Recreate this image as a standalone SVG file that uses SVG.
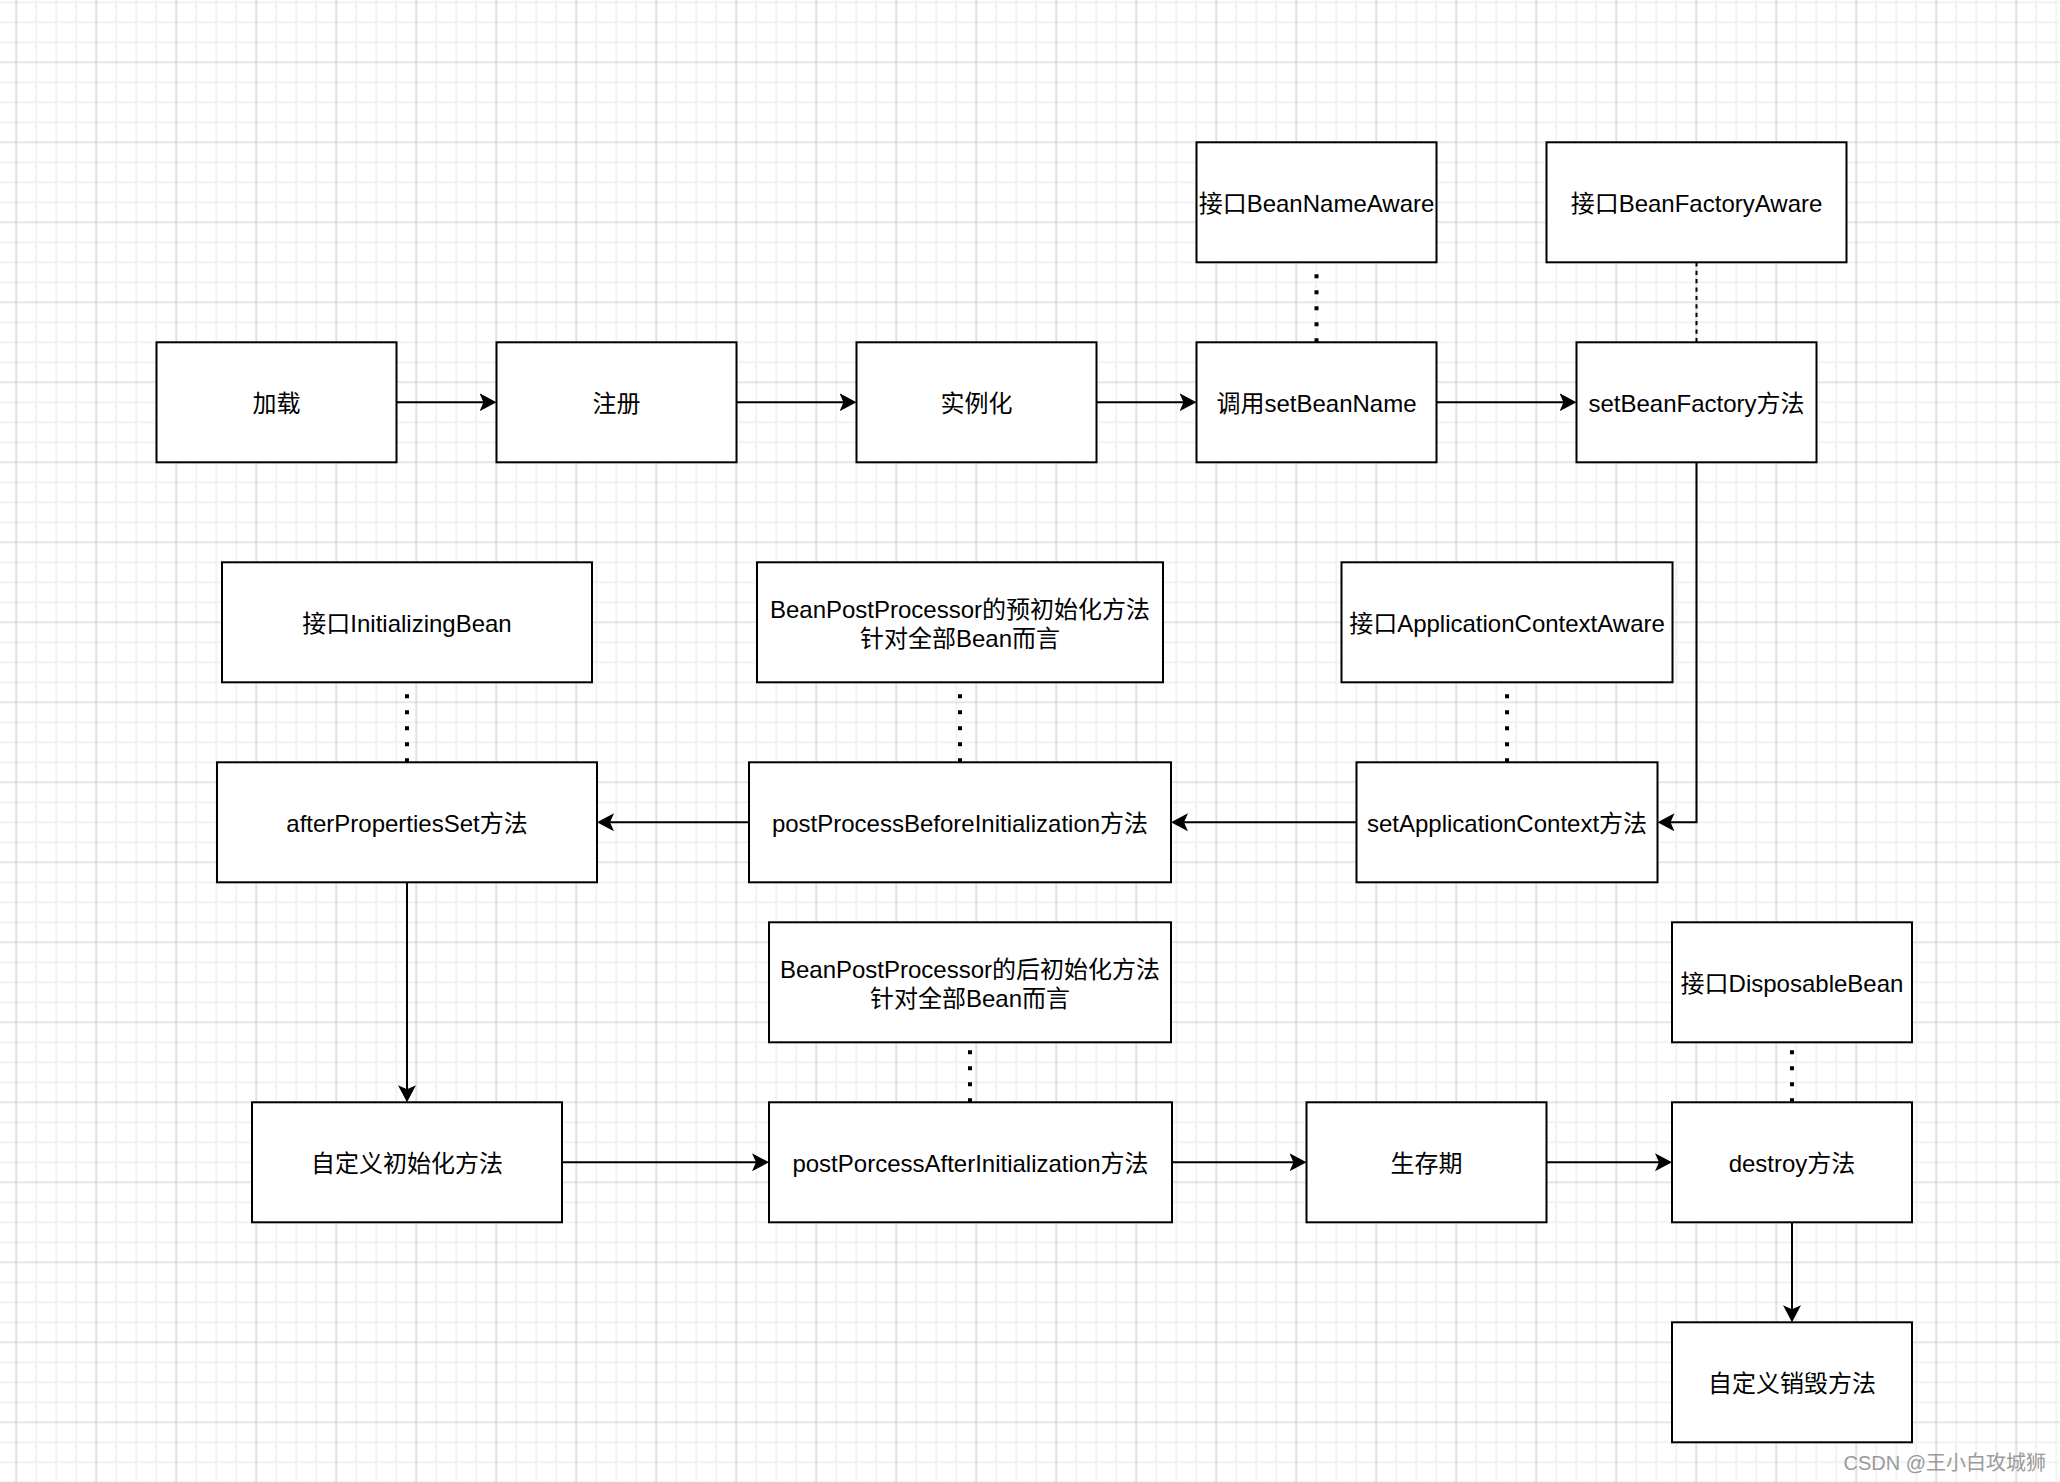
<svg xmlns="http://www.w3.org/2000/svg" width="2060" height="1482" viewBox="0 0 2060 1482">
  <defs>
    <pattern id="grid" patternUnits="userSpaceOnUse" x="6.3" y="52.3" width="80" height="80">
      <path d="M30,0 V80 M50,0 V80 M70,0 V80 M0,30 H80 M0,50 H80 M0,70 H80" stroke="#f2f2f2" stroke-width="2" fill="none"/>
      <path d="M10,0 V80 M0,10 H80" stroke="#cdcdcd" stroke-width="1.2" fill="none"/>
    </pattern>
    <marker id="arrow" markerUnits="userSpaceOnUse" markerWidth="20" markerHeight="20" refX="7" refY="9" orient="auto">
      <path d="M0,0 L17,9 L0,18 L4,9 Z" fill="#000"/>
    </marker>
  </defs>
  <style>
    .box { fill: #ffffff; stroke: #000000; stroke-width: 2; }
    .lbl { font-family: "Liberation Sans", "Noto Sans CJK SC", sans-serif; font-size: 24px; fill: #000000; text-anchor: middle; }
    .edge { fill: none; stroke: #000000; stroke-width: 2; }
    .dot { fill: none; stroke: #000000; stroke-width: 4; stroke-dasharray: 4 12; }
    .dash { fill: none; stroke: #000000; stroke-width: 2; stroke-dasharray: 4.2 4.2; }
    .wm { font-family: "Liberation Sans", "Noto Sans CJK SC", sans-serif; font-size: 20px; fill: #9a9a9a; text-anchor: end; }
  </style>
  <rect x="0" y="0" width="2060" height="1482" fill="#ffffff"/>
  <rect x="0" y="0" width="2060" height="1482" fill="url(#grid)"/>

  <g id="connectors">
    <path class="edge" d="M396.5,402.3 H486.5" marker-end="url(#arrow)"/>
    <path class="edge" d="M736.5,402.3 H846.5" marker-end="url(#arrow)"/>
    <path class="edge" d="M1096.5,402.3 H1186.5" marker-end="url(#arrow)"/>
    <path class="edge" d="M1436.5,402.3 H1566.5" marker-end="url(#arrow)"/>
    <path class="edge" d="M1696.5,462.3 V822.3 H1667.5" marker-end="url(#arrow)"/>
    <path class="edge" d="M1356.5,822.3 H1181" marker-end="url(#arrow)"/>
    <path class="edge" d="M749,822.3 H607" marker-end="url(#arrow)"/>
    <path class="edge" d="M407,882.3 V1092.3" marker-end="url(#arrow)"/>
    <path class="edge" d="M562,1162.3 H759" marker-end="url(#arrow)"/>
    <path class="edge" d="M1172,1162.3 H1296.5" marker-end="url(#arrow)"/>
    <path class="edge" d="M1546.5,1162.3 H1662" marker-end="url(#arrow)"/>
    <path class="edge" d="M1792,1222.3 V1312.3" marker-end="url(#arrow)"/>
    <path class="dot" d="M1316.5,342.3 V262.3"/>
    <path class="dash" d="M1696.5,262.3 V342.3"/>
    <path class="dot" d="M407,762.3 V682.3"/>
    <path class="dot" d="M960,762.3 V682.3"/>
    <path class="dot" d="M1507,762.3 V682.3"/>
    <path class="dot" d="M970,1102.3 V1042.3"/>
    <path class="dot" d="M1792,1102.3 V1042.3"/>
  </g>

  <g id="n1"><rect class="box" x="156.5" y="342.3" width="240" height="120"/><text class="lbl" x="276.5" y="412.3">加载</text></g>
  <g id="n2"><rect class="box" x="496.5" y="342.3" width="240" height="120"/><text class="lbl" x="616.5" y="412.3">注册</text></g>
  <g id="n3"><rect class="box" x="856.5" y="342.3" width="240" height="120"/><text class="lbl" x="976.5" y="412.3">实例化</text></g>
  <g id="n4"><rect class="box" x="1196.5" y="342.3" width="240" height="120"/><text class="lbl" x="1316.5" y="412.3">调用setBeanName</text></g>
  <g id="n5"><rect class="box" x="1576.5" y="342.3" width="240" height="120"/><text class="lbl" x="1696.5" y="412.3">setBeanFactory方法</text></g>
  <g id="n6"><rect class="box" x="1196.5" y="142.3" width="240" height="120"/><text class="lbl" x="1316.5" y="212.3">接口BeanNameAware</text></g>
  <g id="n7"><rect class="box" x="1546.5" y="142.3" width="300" height="120"/><text class="lbl" x="1696.5" y="212.3">接口BeanFactoryAware</text></g>

  <g id="n8"><rect class="box" x="222" y="562.3" width="370" height="120"/><text class="lbl" x="407" y="632.3">接口InitializingBean</text></g>
  <g id="n9"><rect class="box" x="757" y="562.3" width="406" height="120"/><text class="lbl" x="960" y="617.7">BeanPostProcessor的预初始化方法</text><text class="lbl" x="960" y="646.7">针对全部Bean而言</text></g>
  <g id="n10"><rect class="box" x="1341.5" y="562.3" width="331" height="120"/><text class="lbl" x="1507" y="632.3">接口ApplicationContextAware</text></g>
  <g id="n11"><rect class="box" x="217" y="762.3" width="380" height="120"/><text class="lbl" x="407" y="832.3">afterPropertiesSet方法</text></g>
  <g id="n12"><rect class="box" x="749" y="762.3" width="422" height="120"/><text class="lbl" x="960" y="832.3">postProcessBeforeInitialization方法</text></g>
  <g id="n13"><rect class="box" x="1356.5" y="762.3" width="301" height="120"/><text class="lbl" x="1507" y="832.3">setApplicationContext方法</text></g>

  <g id="n14"><rect class="box" x="769" y="922.3" width="402" height="120"/><text class="lbl" x="970" y="977.7">BeanPostProcessor的后初始化方法</text><text class="lbl" x="970" y="1006.7">针对全部Bean而言</text></g>
  <g id="n15"><rect class="box" x="1672" y="922.3" width="240" height="120"/><text class="lbl" x="1792" y="992.3">接口DisposableBean</text></g>
  <g id="n16"><rect class="box" x="252" y="1102.3" width="310" height="120"/><text class="lbl" x="407" y="1172.3">自定义初始化方法</text></g>
  <g id="n17"><rect class="box" x="769" y="1102.3" width="403" height="120"/><text class="lbl" x="970.5" y="1172.3">postPorcessAfterInitialization方法</text></g>
  <g id="n18"><rect class="box" x="1306.5" y="1102.3" width="240" height="120"/><text class="lbl" x="1426.5" y="1172.3">生存期</text></g>
  <g id="n19"><rect class="box" x="1672" y="1102.3" width="240" height="120"/><text class="lbl" x="1792" y="1172.3">destroy方法</text></g>
  <g id="n20"><rect class="box" x="1672" y="1322.3" width="240" height="120"/><text class="lbl" x="1792" y="1392.3">自定义销毁方法</text></g>

  <text class="wm" x="2046" y="1470">CSDN @王小白攻城狮</text>
</svg>
